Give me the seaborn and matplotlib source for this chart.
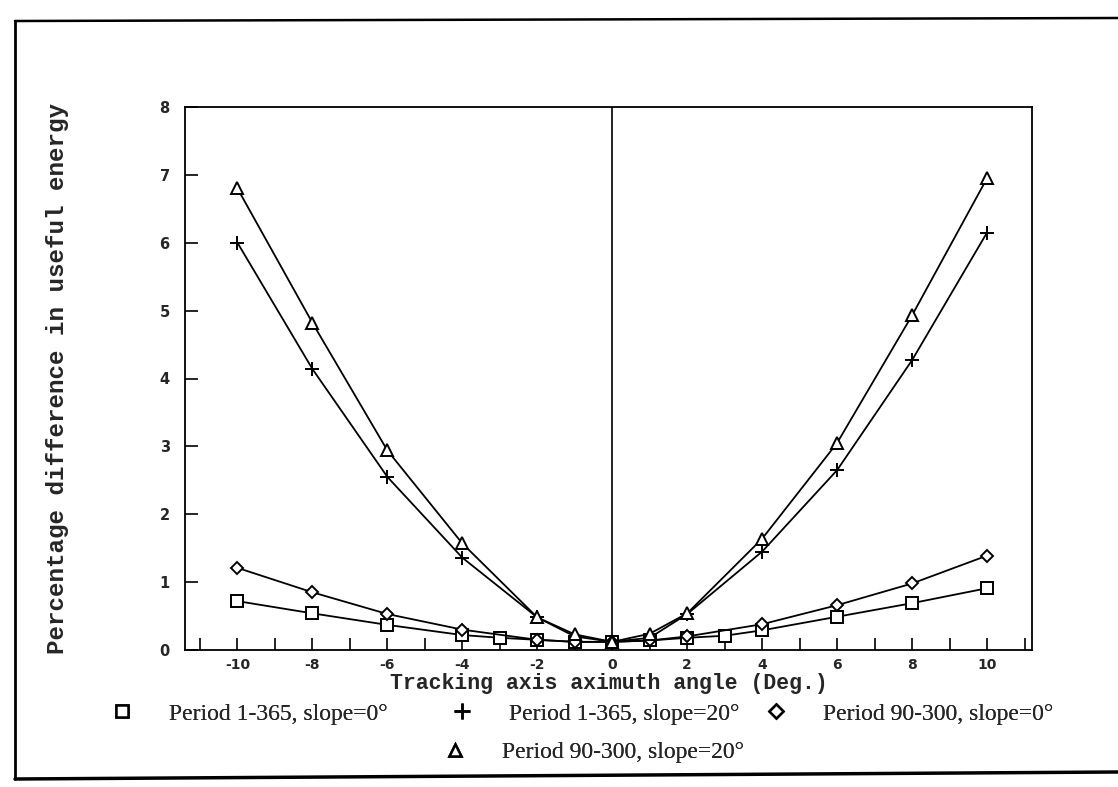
import matplotlib
matplotlib.use("Agg")
import matplotlib.pyplot as plt
from matplotlib.lines import Line2D
import seaborn as sns
import pandas as pd

# ---- data ----
x_main = [-10, -8, -6, -4, -2, -1, 0, 1, 2, 4, 6, 8, 10]
x_sq = [-10, -8, -6, -4, -3, -2, -1, 0, 1, 2, 3, 4, 6, 8, 10]
p365_s0 = [0.72, 0.54, 0.37, 0.22, 0.18, 0.15, 0.12, 0.12, 0.14, 0.18, 0.21, 0.29, 0.49, 0.69, 0.91]
p365_s20 = [6.00, 4.14, 2.55, 1.36, 0.48, 0.20, 0.12, 0.18, 0.53, 1.45, 2.65, 4.27, 6.15]
p90_s0 = [1.21, 0.85, 0.53, 0.30, 0.15, 0.12, 0.12, 0.14, 0.20, 0.38, 0.66, 0.98, 1.39]
p90_s20 = [6.80, 4.82, 2.94, 1.57, 0.48, 0.23, 0.12, 0.24, 0.54, 1.64, 3.05, 4.93, 6.95]

labels = ["Period 1-365, slope=0°", "Period 1-365, slope=20°",
          "Period 90-300, slope=0°", "Period 90-300, slope=20°"]
x_ticks = [-10, -8, -6, -4, -2, 0, 2, 4, 6, 8, 10]
y_ticks = [0, 1, 2, 3, 4, 5, 6, 7, 8]

series = [
    (x_sq, p365_s0, "s", 8),
    (x_main, p365_s20, "+", 10),
    (x_main, p90_s0, "D", 6),
    (x_main, p90_s20, "^", 8),
]

sns.set_theme(style="ticks")
plt.rcParams["font.family"] = ["DejaVu Sans"]

W, H = 1118, 787
fig = plt.figure(figsize=(W / 100, H / 100), dpi=100)
ax = fig.add_axes([185 / W, 1 - 650 / H, (1032 - 185) / W, (650 - 107) / H])

for (xs, ys, mk, ms), lab in zip(series, labels):
    df = pd.DataFrame({"x": xs, "y": ys})
    sns.lineplot(data=df, x="x", y="y", ax=ax, color="black", linewidth=1.3,
                 marker=mk, markersize=ms, markerfacecolor="white",
                 markeredgecolor="black", markeredgewidth=1.4, legend=False)

ax.axvline(0, color="black", linewidth=1.2, zorder=0)
ax.set_xlim(-11.4, 11.2)
ax.set_ylim(0, 8)
ax.set_xticks(x_ticks)
ax.set_xticks(range(-11, 12), minor=True)
ax.set_yticks(y_ticks)
ax.set_xticklabels([str(t) for t in x_ticks], fontsize=10, fontweight="bold")
ax.set_yticklabels([str(t) for t in y_ticks], fontsize=10.5, fontweight="bold")
ax.tick_params(axis="both", which="both", direction="in", length=9, width=1.2, color="black")
ax.tick_params(axis="x", which="major", pad=6)
ax.tick_params(axis="y", which="major", pad=11)
for s in ax.spines.values():
    s.set_linewidth(1.3)
    s.set_color("black")

ax.set_xlabel("Tracking axis aximuth angle (Deg.)", fontsize=15.5, fontweight="bold",
              family="Liberation Mono")
ax.xaxis.set_label_coords(0.5, (650 - 684) / 543)
ax.xaxis.label.set_va("center")
ax.set_ylabel("Percentage difference in useful energy", fontsize=17.5, fontweight="bold",
              family="Liberation Mono")
ax.yaxis.set_label_coords((58 - 185) / 847, 0.5)
ax.yaxis.label.set_va("center")

# legend (markers only), one entry per position as in the reference
def handle(mk, ms):
    return Line2D([], [], linestyle="none", marker=mk, markersize=ms + 1,
                  markerfacecolor="white", markeredgecolor="black", markeredgewidth=1.8,
                  color="black")

fs = 17
em = fs * 100 / 72
entry_pos = [(122, 714), (462, 714), (776, 714), (455, 752)]
for (_, _, mk, ms), lab, (cx, cy) in zip(series, labels, entry_pos):
    leg = fig.legend([handle(mk, ms)], [lab], loc="center left",
                     bbox_to_anchor=((cx - em / 2) / W, 1 - cy / H),
                     frameon=False, handlelength=1.0, handletextpad=1.5,
                     borderpad=0, borderaxespad=0,
                     prop={"family": "Liberation Serif", "size": fs})
    fig.add_artist(leg)

# outer frame of the scanned figure
fig.add_artist(Line2D([15 / W, 15 / W], [1 - 21 / H, 1 - 779 / H],
                      transform=fig.transFigure, color="black", linewidth=2))
fig.add_artist(Line2D([15 / W, 1.0], [1 - 21 / H, 1 - 18 / H],
                      transform=fig.transFigure, color="black", linewidth=1.8))
fig.add_artist(Line2D([15 / W, 1.0], [1 - 779 / H, 1 - 772 / H],
                      transform=fig.transFigure, color="black", linewidth=2.5))

fig.savefig("out.png", dpi=100, facecolor="white")
